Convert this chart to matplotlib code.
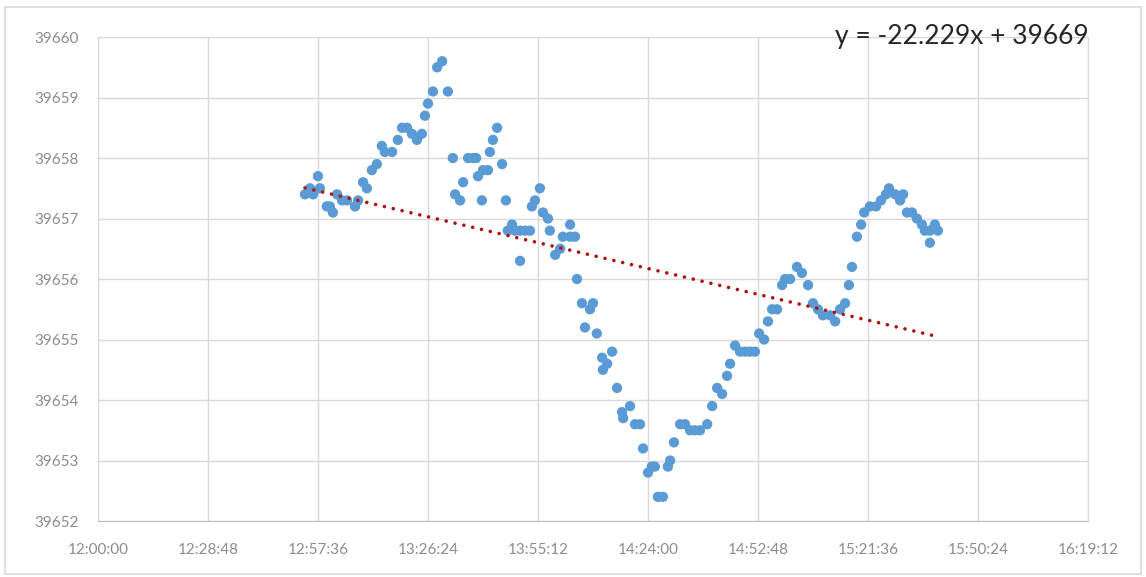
import numpy as np
import matplotlib
matplotlib.use("Agg")
import matplotlib.pyplot as plt
from matplotlib.patches import Rectangle

# minutes after 12:00:00 and measured value
minutes = [54.2, 55.5, 56.3, 57.6, 58.1, 59.9, 60.7, 61.5, 62.6, 63.9, 65.2, 67.3, 68.1, 69.4,
           70.4, 71.7, 73.0, 74.3, 75.1, 77.0, 78.5, 79.6, 80.9, 82.2, 83.5, 84.8, 85.6, 86.4,
           87.7, 88.8, 90.1, 91.6, 92.9, 93.5, 94.8, 95.6, 96.9, 98.2, 99.0, 99.5, 100.5, 100.8,
           102.1, 102.6, 103.4, 104.5, 105.8, 106.8, 107.3, 108.4, 109.2, 110.5, 110.5, 111.8,
           113.1, 113.6, 114.4, 115.7, 116.5, 117.8, 118.3, 119.7, 121.0, 121.7, 123.6, 123.6,
           124.9, 125.4, 126.7, 127.5, 128.8, 129.6, 130.6, 132.0, 132.2, 133.3, 134.6, 135.9,
           137.2, 137.5, 139.3, 140.6, 141.9, 142.7, 144.0, 145.0, 145.8, 146.6, 147.9, 149.2,
           149.8, 150.8, 152.4, 153.7, 155.0, 156.3, 157.6, 159.5, 160.8, 162.1, 163.4, 164.7,
           165.5, 166.8, 168.1, 169.4, 170.7, 172.0, 173.1, 174.4, 175.4, 176.5, 177.8, 179.1,
           179.9, 181.2, 183.0, 184.3, 185.9, 187.2, 188.5, 189.8, 191.7, 193.0, 194.3, 195.6,
           196.6, 197.4, 198.7, 199.8, 200.6, 202.1, 203.7, 205.0, 206.3, 207.1, 208.7, 210.0,
           210.8, 211.8, 213.1, 214.4, 215.7, 216.5, 217.8, 217.8, 219.1, 219.9]
values = [39657.4, 39657.5, 39657.4, 39657.7, 39657.5, 39657.2, 39657.2, 39657.1, 39657.4,
          39657.3, 39657.3, 39657.2, 39657.3, 39657.6, 39657.5, 39657.8, 39657.9, 39658.2,
          39658.1, 39658.1, 39658.3, 39658.5, 39658.5, 39658.4, 39658.3, 39658.4, 39658.7,
          39658.9, 39659.1, 39659.5, 39659.6, 39659.1, 39658.0, 39657.4, 39657.3, 39657.6,
          39658.0, 39658.0, 39658.0, 39657.7, 39657.3, 39657.8, 39657.8, 39658.1, 39658.3,
          39658.5, 39657.9, 39657.3, 39656.8, 39656.9, 39656.8, 39656.8, 39656.3, 39656.8,
          39656.8, 39657.2, 39657.3, 39657.5, 39657.1, 39657.0, 39656.8, 39656.4, 39656.5,
          39656.7, 39656.9, 39656.7, 39656.7, 39656.0, 39655.6, 39655.2, 39655.5, 39655.6,
          39655.1, 39654.7, 39654.5, 39654.6, 39654.8, 39654.2, 39653.8, 39653.7, 39653.9,
          39653.6, 39653.6, 39653.2, 39652.8, 39652.9, 39652.9, 39652.4, 39652.4, 39652.9,
          39653.0, 39653.3, 39653.6, 39653.6, 39653.5, 39653.5, 39653.5, 39653.6, 39653.9,
          39654.2, 39654.1, 39654.4, 39654.6, 39654.9, 39654.8, 39654.8, 39654.8, 39654.8,
          39655.1, 39655.0, 39655.3, 39655.5, 39655.5, 39655.9, 39656.0, 39656.0, 39656.2,
          39656.1, 39655.9, 39655.6, 39655.5, 39655.4, 39655.4, 39655.3, 39655.5, 39655.6,
          39655.9, 39656.2, 39656.7, 39656.9, 39657.1, 39657.2, 39657.2, 39657.3, 39657.4,
          39657.5, 39657.4, 39657.3, 39657.4, 39657.1, 39657.1, 39657.0, 39656.9, 39656.8,
          39656.8, 39656.6, 39656.9, 39656.8]

x_ticks = [0.50, 0.52, 0.54, 0.56, 0.58, 0.60, 0.62, 0.64, 0.66, 0.68]
x_labels = ["12:00:00", "12:28:48", "12:57:36", "13:26:24", "13:55:12",
            "14:24:00", "14:52:48", "15:21:36", "15:50:24", "16:19:12"]
y_ticks = [39652, 39653, 39654, 39655, 39656, 39657, 39658, 39659, 39660]
equation = "y = -22.229x + 39669"

plt.rcParams['font.family'] = ['Lato', 'DejaVu Sans']

# time as fraction of a day, like Excel
x = 0.5 + np.array(minutes) / 1440.0
y = np.array(values)

fig = plt.figure(figsize=(11.46, 5.77), dpi=100)
ax = fig.add_axes([0.0855, 0.097, 0.8639, 0.8388])

ax.scatter(x, y, s=55, color='#5b9bd5', edgecolors='none', zorder=3)

# linear trendline, round dots
k, b = np.polyfit(x, y, 1)
xt = np.array([x.min(), x.max()])
ax.plot(xt, k * xt + b, color='#b01010', linestyle=(0, (0.01, 2.5)), linewidth=2.6,
        dash_capstyle='round', zorder=4)

ax.set_xlim(0.5, 0.68)
ax.set_ylim(39652, 39660)
ax.set_xticks(x_ticks)
ax.set_xticklabels(x_labels)
ax.set_yticks(y_ticks)
ax.grid(True, color='#d9d9d9', linewidth=1)
ax.set_axisbelow(True)
for s in ax.spines.values():
    s.set_color('#d9d9d9')
ax.spines['bottom'].set_color('#bfbfbf')
ax.tick_params(length=0, labelsize=11, colors='#8c8c8c', pad=14)
ax.tick_params(axis='x', pad=16)

fig.text(0.839, 0.936, equation, fontsize=19, color='#262626', ha='center', va='center')

fig.patches.append(Rectangle((0.004, 0.006), 0.992, 0.982, transform=fig.transFigure,
                             fill=False, edgecolor='#d9d9d9', linewidth=1.2))

fig.savefig("out.png", dpi=100, facecolor='white')
